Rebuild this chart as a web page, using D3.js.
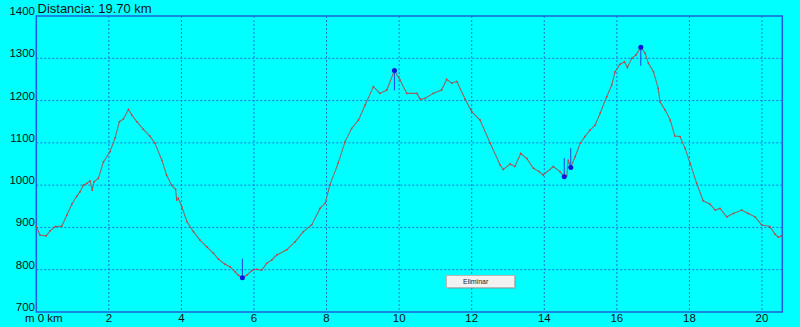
<!DOCTYPE html>
<html>
<head>
<meta charset="utf-8">
<script src="https://cdn.jsdelivr.net/npm/d3@7"></script>
<style>
  html, body { margin: 0; padding: 0; background: #00ffff; }
  svg { display: block; font-family: "Liberation Sans", Arial, sans-serif; }
</style>
</head>
<body>
<div id="viz"></div>
<script>
// profile (km, metres)
const distKm = [0.0, 0.10, 0.27, 0.38, 0.52, 0.70, 0.84, 0.98, 1.11, 1.20, 1.30, 1.39, 1.48, 1.54, 1.59, 1.71,
  1.85, 2.03, 2.17, 2.29, 2.40, 2.54, 2.63, 2.77, 2.95, 3.13, 3.27, 3.46, 3.59, 3.73, 3.84, 3.87, 3.91,
  4.01, 4.15, 4.33, 4.51, 4.70, 4.88, 5.02, 5.20, 5.34, 5.48, 5.57, 5.68, 5.80, 5.94, 6.07, 6.21, 6.35,
  6.49, 6.63, 6.90, 7.13, 7.36, 7.59, 7.82, 7.96, 8.09, 8.32, 8.51, 8.69, 8.88, 9.06, 9.29, 9.47, 9.66,
  9.87, 10.02, 10.21, 10.49, 10.58, 10.71, 10.94, 11.17, 11.31, 11.45, 11.59, 11.82, 12.00, 12.23, 12.51,
  12.78, 12.87, 13.06, 13.19, 13.35, 13.52, 13.70, 13.86, 13.97, 14.25, 14.43, 14.55, 14.62, 14.66, 14.73,
  14.85, 14.99, 15.12, 15.26, 15.40, 15.54, 15.72, 15.86, 15.95, 16.09, 16.21, 16.29, 16.41, 16.53, 16.66,
  16.78, 16.87, 17.01, 17.14, 17.19, 17.33, 17.47, 17.60, 17.74, 17.88, 18.02, 18.20, 18.38, 18.57, 18.71,
  18.84, 19.03, 19.21, 19.44, 19.62, 19.81, 19.99, 20.22, 20.36, 20.45, 20.54];
const elevM = [902, 882, 880, 892, 902, 903, 929, 955, 973, 984, 1000, 1004, 1010, 988, 1008, 1016,
  1055, 1079, 1111, 1150, 1156, 1179, 1166, 1150, 1132, 1116, 1099, 1059, 1024, 1000, 990, 965, 969,
  949, 914, 890, 870, 854, 839, 825, 813, 807, 795, 787, 781, 787, 798, 801, 799, 815,
  823, 835, 847, 866, 890, 906, 945, 957, 1000, 1052, 1103, 1134, 1154, 1189, 1233, 1217, 1225,
  1271, 1249, 1217, 1217, 1203, 1205, 1217, 1225, 1250, 1241, 1245, 1203, 1174, 1154, 1099,
  1048, 1037, 1050, 1044, 1075, 1063, 1040, 1032, 1024, 1044, 1032, 1020, 1022, 1059, 1042,
  1067, 1099, 1115, 1130, 1142, 1170, 1209, 1237, 1268, 1286, 1292, 1278, 1300, 1308, 1326,
  1312, 1288, 1268, 1229, 1197, 1178, 1154, 1116, 1115, 1087, 1052, 1004, 963, 955, 941,
  945, 925, 933, 941, 933, 925, 906, 902, 884, 877, 880];

// waypoint markers and the length of their stems (metres, + up / - down)
const markKm = [5.68, 9.87, 14.55, 14.73, 16.66];
const markElev = [781, 1271, 1020, 1042, 1326];
const markStem = [45, -47, 44, 46, -44];

const xTicks = [2, 4, 6, 8, 10, 12, 14, 16, 18, 20];
const yTicks = [700, 800, 900, 1000, 1100, 1200, 1300, 1400];
const title = "Distancia: 19.70 km";

const width = 800;
const height = 327;
const plot = { left: 36.3, right: 782.3, top: 16, bottom: 312 };

const svg = d3.select("#viz")
  .append("svg")
    .attr("width", width)
    .attr("height", height);

svg.append("rect")
  .attr("width", width)
  .attr("height", height)
  .attr("fill", "#00ffff");

const x = d3.scaleLinear()
  .domain([0, 20.56])
  .range([plot.left, plot.right]);

const y = d3.scaleLinear()
  .domain([700, 1400])
  .range([plot.bottom, plot.top]);

// grid
svg.append("g")
  .selectAll("line")
  .data(xTicks)
  .join("line")
    .attr("x1", d => x(d)).attr("x2", d => x(d))
    .attr("y1", plot.top).attr("y2", plot.bottom)
    .attr("stroke", "#1f73d6")
    .attr("stroke-dasharray", "2,2");

svg.append("g")
  .selectAll("line")
  .data(yTicks.slice(1, -1))
  .join("line")
    .attr("x1", plot.left).attr("x2", plot.right)
    .attr("y1", d => y(d)).attr("y2", d => y(d))
    .attr("stroke", "#1f73d6")
    .attr("stroke-dasharray", "2,2");

// frame
svg.append("rect")
  .attr("x", plot.left)
  .attr("y", plot.top)
  .attr("width", plot.right - plot.left)
  .attr("height", plot.bottom - plot.top)
  .attr("fill", "none")
  .attr("stroke", "#1e5fe0")
  .attr("stroke-width", 1.5);

// axis labels
svg.append("g")
  .selectAll("text")
  .data(yTicks)
  .join("text")
    .attr("x", 35)
    .attr("y", d => y(d) - 1)
    .attr("text-anchor", "end")
    .attr("font-size", 11.5)
    .attr("fill", "#111")
    .text(d => d);

svg.append("g")
  .selectAll("text")
  .data(xTicks)
  .join("text")
    .attr("x", d => x(d))
    .attr("y", 322)
    .attr("text-anchor", "middle")
    .attr("font-size", 11.5)
    .attr("fill", "#111")
    .text(d => d);

svg.append("text")
  .attr("x", 25)
  .attr("y", 322)
  .attr("font-size", 11.5)
  .attr("fill", "#111")
  .text("m 0 km");

svg.append("text")
  .attr("x", 37.5)
  .attr("y", 12.5)
  .attr("font-size", 13)
  .attr("fill", "#111")
  .text(title);

// profile
const profile = distKm.map((d, i) => [d, elevM[i]]);

svg.append("path")
  .datum(profile)
  .attr("fill", "none")
  .attr("stroke", "#8a6868")
  .attr("stroke-width", 1.1)
  .attr("d", d3.line().x(d => x(d[0])).y(d => y(d[1])));

svg.append("g")
  .selectAll("rect")
  .data(profile)
  .join("rect")
    .attr("x", d => x(d[0]) - 0.75)
    .attr("y", d => y(d[1]) - 0.75)
    .attr("width", 1.5)
    .attr("height", 1.5)
    .attr("fill", "#e03434");

// markers
const marks = markKm.map((d, i) => ({ km: d, elev: markElev[i], stem: markStem[i] }));

svg.append("g")
  .selectAll("line")
  .data(marks)
  .join("line")
    .attr("x1", d => x(d.km)).attr("x2", d => x(d.km))
    .attr("y1", d => y(d.elev)).attr("y2", d => y(d.elev + d.stem))
    .attr("stroke", "#1848e8")
    .attr("stroke-width", 1);

svg.append("g")
  .selectAll("circle")
  .data(marks)
  .join("circle")
    .attr("cx", d => x(d.km))
    .attr("cy", d => y(d.elev))
    .attr("r", 2.5)
    .attr("fill", "#0a14e0");

// button
const btn = svg.append("g").attr("transform", "translate(446,275)");
btn.append("rect")
  .attr("x", 1.5).attr("y", 1.5)
  .attr("width", 68).attr("height", 12)
  .attr("fill", "#7a9a9a");
btn.append("rect")
  .attr("x", 0.5).attr("y", 0.5)
  .attr("width", 68).attr("height", 12)
  .attr("fill", "#f2f2f2")
  .attr("stroke", "#b8b8b8");
btn.append("text")
  .attr("x", 17)
  .attr("y", 8.5)
  .attr("font-size", 7)
  .attr("fill", "#222")
  .text("Eliminar");
</script>
</body>
</html>
